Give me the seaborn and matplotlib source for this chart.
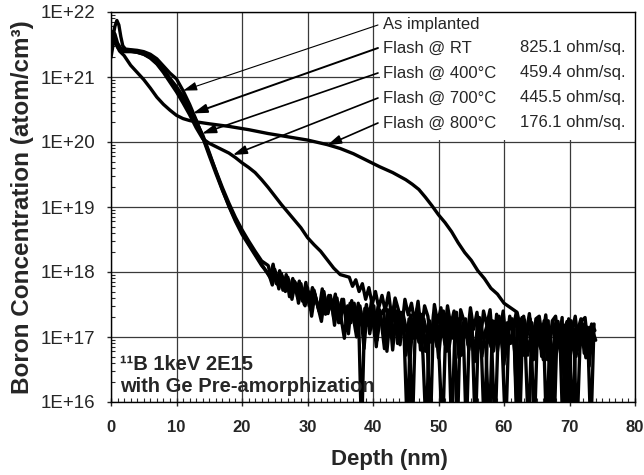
import numpy as np
import pandas as pd
import matplotlib
matplotlib.use("Agg")
import matplotlib.pyplot as plt
import seaborn as sns
from matplotlib.ticker import LogLocator, NullFormatter, MultipleLocator
from matplotlib.patches import Rectangle

# ---------------- data (log10 of concentration, atom/cm3) ----------------
series_names = ["As implanted", "Flash @ RT", "Flash @ 400°C", "Flash @ 700°C", "Flash @ 800°C"]
sheet_res = ["", "825.1 ohm/sq.", "459.4 ohm/sq.", "445.5 ohm/sq.", "176.1 ohm/sq."]

head_depth_a = [0.0, 0.3, 0.6, 0.9, 1.2, 1.5, 1.8, 2.2, 3, 4, 5, 6, 7, 8, 9, 10, 11, 12, 13, 14,
                15, 16, 17, 18, 19, 20, 21, 22, 23]
head_log_asimp = [21.45, 21.62, 21.78, 21.87, 21.80, 21.62, 21.48, 21.43, 21.42, 21.41, 21.39, 21.35,
                  21.28, 21.17, 21.06, 20.97, 20.79, 20.58, 20.34, 20.08, 19.82, 19.56, 19.30, 19.06,
                  18.84, 18.65, 18.48, 18.32, 18.17]

head_depth_b = [0.0, 0.3, 0.6, 1.0, 1.5, 2.2, 3, 4, 5, 6, 7, 8, 9, 10, 11, 12, 13, 14, 15, 16, 17,
                18, 19, 20, 21, 22, 23]
head_log_rt = [21.55, 21.70, 21.66, 21.52, 21.44, 21.41, 21.41, 21.40, 21.37, 21.32, 21.24, 21.12,
               20.98, 20.85, 20.70, 20.53, 20.33, 20.07, 19.79, 19.52, 19.26, 19.02, 18.80, 18.61,
               18.44, 18.28, 18.12]
head_log_400 = [21.35, 21.62, 21.58, 21.46, 21.40, 21.39, 21.39, 21.38, 21.35, 21.30, 21.21, 21.09,
                20.95, 20.80, 20.64, 20.48, 20.31, 20.11, 19.84, 19.55, 19.27, 19.01, 18.78, 18.58,
                18.42, 18.26, 18.10]

# noisy tails (SIMS counting noise), sampled every 0.5 nm on staggered grids
tail_depth_asimp = np.arange(24.0, 73.75, 0.5)
tail_depth_rt = np.arange(24.25, 74.0, 0.5)
tail_depth_400 = np.arange(24.125, 73.9, 0.5)
tail_log_asimp = [18.10, 17.88, 18.04, 17.80, 17.98, 17.72, 17.92, 17.65, 17.86, 17.60,
                  17.82, 17.50, 17.76, 17.42, 17.72, 17.50, 17.35, 17.70, 17.40, 17.64,
                  17.30, 17.60, 17.22, 17.58, 17.10, 17.52, 17.30, 17.00, 17.48, 17.20,
                  17.50, 17.05, 17.38, 16.85, 17.42, 17.15, 16.95, 17.40, 16.80, 17.32,
                  17.05, 17.38, 16.72, 17.28, 15.50, 17.30, 16.92, 17.35, 16.78, 17.22,
                  16.98, 17.32, 16.68, 17.20, 16.88, 17.30, 15.50, 17.08, 17.28, 16.72,
                  17.24, 16.88, 17.18, 16.62, 17.28, 16.95, 15.50, 17.20, 16.85, 17.24,
                  16.78, 17.18, 16.58, 17.22, 16.90, 17.12, 15.50, 17.20, 16.72, 17.08,
                  17.22, 16.65, 17.12, 16.85, 17.20, 15.50, 17.00, 16.70, 17.18, 16.88,
                  17.15, 16.62, 17.10, 15.50, 17.18, 16.80, 17.08, 16.68, 17.12, 16.90]
tail_log_rt = [17.92, 18.12, 17.82, 18.02, 17.72, 17.96, 17.62, 17.90, 17.68, 17.86,
               17.55, 17.84, 17.48, 17.76, 17.60, 17.40, 17.74, 17.35, 17.64, 17.42,
               17.66, 17.22, 17.58, 17.40, 17.05, 17.56, 17.20, 17.52, 15.50, 17.44,
               17.18, 17.54, 17.02, 17.46, 17.25, 16.82, 17.42, 17.08, 17.48, 16.90,
               17.38, 17.02, 15.50, 17.34, 16.98, 17.44, 16.80, 17.28, 17.05, 15.50,
               17.36, 16.85, 17.24, 17.40, 16.78, 17.26, 16.98, 17.38, 16.70, 17.22,
               15.50, 17.28, 16.98, 16.75, 17.30, 17.04, 16.82, 15.50, 17.25, 16.92,
               17.32, 16.80, 15.50, 17.18, 17.28, 16.72, 17.15, 17.30, 16.85, 15.50,
               17.22, 16.88, 17.28, 16.70, 17.14, 17.25, 15.50, 17.00, 17.24, 16.78,
               17.18, 15.50, 17.25, 16.82, 17.10, 17.28, 16.75, 17.15, 15.50, 17.20]
tail_log_400 = [17.96, 17.80, 18.00, 17.74, 17.94, 17.70, 17.88, 17.58, 17.84, 17.52,
                17.76, 17.48, 17.70, 17.32, 17.66, 17.45, 17.24, 17.62, 17.36, 17.58,
                17.18, 17.54, 17.30, 16.98, 17.48, 17.22, 17.52, 17.05, 17.40, 16.82,
                17.44, 17.12, 17.48, 16.95, 17.34, 17.42, 16.78, 17.32, 17.02, 17.40,
                16.88, 17.34, 17.10, 16.62, 17.28, 17.00, 17.36, 16.72, 15.50, 17.25,
                16.92, 17.30, 16.62, 15.50, 17.24, 16.85, 17.18, 17.30, 16.68, 17.14,
                17.28, 16.80, 17.15, 15.50, 17.24, 16.70, 17.08, 17.25, 16.88, 15.50,
                17.14, 17.28, 16.68, 17.08, 17.22, 16.78, 15.50, 17.15, 17.26, 16.72,
                17.08, 15.50, 17.18, 16.82, 17.25, 16.65, 17.10, 15.50, 17.20, 16.88,
                17.08, 17.24, 16.72, 17.12, 15.50, 16.95, 17.20, 16.80, 17.15, 17.05]

depth_700 = [0.0, 0.4, 0.8, 1.3, 2.2, 3, 4, 5, 6, 7, 8, 9, 10, 11, 12, 13, 14, 15, 16, 17, 18, 19,
             20, 21, 22, 23, 24, 25, 26, 27, 28, 29, 30, 31, 32, 33, 34, 35]
log_700 = [21.40, 21.60, 21.52, 21.43, 21.40, 21.40, 21.38, 21.35, 21.29, 21.20, 21.07, 20.92,
           20.77, 20.60, 20.42, 20.22, 20.05, 19.98, 19.93, 19.88, 19.83, 19.76, 19.68, 19.61,
           19.53, 19.42, 19.30, 19.17, 19.04, 18.92, 18.80, 18.68, 18.53, 18.42, 18.32, 18.19,
           18.06, 17.96]
tail_depth_700 = np.arange(36.375, 74.0, 0.5)
tail_log_700 = [17.92, 17.78, 17.88, 17.70, 17.82, 17.58, 17.76, 17.50, 17.70, 17.45,
                17.64, 17.40, 17.68, 17.28, 17.60, 17.42, 17.12, 17.58, 17.34, 17.52,
                17.22, 17.55, 17.08, 17.48, 17.32, 16.92, 17.50, 17.22, 17.45, 17.02,
                17.48, 17.18, 17.40, 15.50, 17.42, 17.25, 16.98, 17.45, 17.12, 17.38,
                16.92, 17.40, 17.18, 17.42, 16.78, 17.35, 17.08, 17.40, 16.88, 17.32,
                17.12, 17.38, 15.50, 17.30, 17.05, 17.36, 16.82, 17.28, 17.32, 16.98,
                17.34, 16.80, 17.25, 17.32, 16.92, 17.30, 15.50, 17.28, 17.08, 17.32,
                16.88, 17.25, 17.30, 16.82, 17.20, 17.10]

depth_800 = [0.0, 0.4, 0.8, 1.3, 2.0, 3, 4, 5, 6, 7, 8, 9, 10, 11, 12, 13, 15, 18, 21, 24, 27, 30,
             33, 35, 37, 39, 41, 43, 45, 46, 47, 48, 49, 50, 51, 52, 53, 54, 55, 56, 57, 58, 59,
             60, 61]
log_800 = [21.30, 21.55, 21.50, 21.40, 21.33, 21.18, 21.07, 20.96, 20.83, 20.69, 20.58, 20.49,
           20.41, 20.36, 20.33, 20.31, 20.28, 20.24, 20.19, 20.13, 20.08, 20.03, 19.96, 19.90,
           19.82, 19.72, 19.62, 19.53, 19.42, 19.35, 19.27, 19.15, 19.02, 18.88, 18.76, 18.62,
           18.45, 18.30, 18.18, 18.02, 17.90, 17.75, 17.66, 17.52, 17.45]
tail_depth_800 = np.arange(62.0, 74.25, 0.5)
tail_log_800 = [17.38, 17.15, 17.32, 17.00, 17.28, 16.85, 17.25, 17.02, 16.65, 17.20, 16.95, 17.24,
                16.75, 17.15, 15.50, 17.18, 16.90, 17.14, 16.70, 17.10, 16.88, 17.16, 16.55, 17.10,
                16.95]

y_ticks_labels = ["1E+16", "1E+17", "1E+18", "1E+19", "1E+20", "1E+21", "1E+22"]
x_ticks = [0, 10, 20, 30, 40, 50, 60, 70, 80]

# ---------------- build long-form table ----------------
curves = [
    (series_names[0], list(head_depth_a) + list(tail_depth_asimp), head_log_asimp + tail_log_asimp),
    (series_names[1], list(head_depth_b) + list(tail_depth_rt), head_log_rt + tail_log_rt),
    (series_names[2], list(head_depth_b) + list(tail_depth_400), head_log_400 + tail_log_400),
    (series_names[3], list(depth_700) + list(tail_depth_700), log_700 + tail_log_700),
    (series_names[4], list(depth_800) + list(tail_depth_800), log_800 + tail_log_800),
]
frames = []
for name, d, l in curves:
    frames.append(pd.DataFrame({"depth": d, "conc": 10.0 ** np.array(l), "sample": name}))
df = pd.concat(frames, ignore_index=True)

# ---------------- plot ----------------
sns.set_style("white")
plt.rcParams["font.family"] = ["Liberation Sans", "DejaVu Sans"]

fig = plt.figure(figsize=(6.44, 4.75), dpi=100)
ax = fig.add_axes([111 / 644, 1 - 402 / 475, 524 / 644, 390 / 475])

sns.lineplot(data=df, x="depth", y="conc", hue="sample", units="sample", estimator=None,
             palette={n: "black" for n in series_names}, legend=False, linewidth=2.4,
             sort=False, ax=ax, zorder=3)

ax.set_yscale("log")
ax.set_xlim(0, 80)
ax.set_ylim(1e16, 1e22)
ax.set_xlabel("")
ax.set_ylabel("")

ax.set_yticks([10.0 ** k for k in range(16, 23)])
ax.set_yticklabels(y_ticks_labels, fontsize=13.5)
ax.yaxis.set_minor_locator(LogLocator(base=10, subs=np.arange(2, 10)))
ax.yaxis.set_minor_formatter(NullFormatter())
ax.set_xticks(x_ticks)
ax.set_xticklabels([str(v) for v in x_ticks], fontsize=12, fontweight="bold")
ax.xaxis.set_minor_locator(MultipleLocator(1))

ax.tick_params(axis="y", which="major", direction="out", length=3, width=1, pad=8.5, left=True)
ax.tick_params(axis="y", which="minor", direction="in", length=3, width=0.8, left=True)
ax.tick_params(axis="x", which="major", direction="inout", length=6, width=1, pad=10, bottom=True)
ax.tick_params(axis="x", which="minor", direction="in", length=3, width=0.8, bottom=True)

ax.set_axisbelow(True)
ax.grid(True, which="major", color="#3a3a3a", linewidth=0.9)
for sp in ax.spines.values():
    sp.set_color("black")
    sp.set_linewidth(1.0)
    sp.set_zorder(5)

# white label panel at top right
ax.add_patch(Rectangle((0.513, 0.672), 0.487, 0.328, transform=ax.transAxes,
                       facecolor="white", edgecolor="none", zorder=1.5))

text_y = [0.9667, 0.9077, 0.8436, 0.7795, 0.7154]
targets = [(11.0, 10 ** 20.79), (12.5, 10 ** 20.44), (13.9, 10 ** 20.13),
           (18.6, 10 ** 19.80), (33.0, 10 ** 19.95)]
arrow_lw = [0.8, 1.4, 1.2, 1.2, 1.2]
for name, val, ty, tgt, lw in zip(series_names, sheet_res, text_y, targets, arrow_lw):
    ax.text(0.519, ty, name, transform=ax.transAxes, fontsize=12, ha="left", va="center",
            zorder=6)
    if val:
        ax.text(0.981, ty, val, transform=ax.transAxes, fontsize=12, ha="right", va="center",
                zorder=6)
    ax.annotate("", xy=tgt, xycoords="data", xytext=(0.5095, ty), textcoords="axes fraction",
                arrowprops=dict(arrowstyle="-|>,head_length=0.7,head_width=0.22", color="black",
                                lw=lw, shrinkA=0, shrinkB=0, mutation_scale=12), zorder=6)

ax.text(0.017, 0.095, "¹¹B 1keV 2E15", transform=ax.transAxes, fontsize=14.5,
        fontweight="bold", ha="left", va="center", zorder=6)
ax.text(0.017, 0.0385, "with Ge Pre-amorphization", transform=ax.transAxes, fontsize=14.5,
        fontweight="bold", ha="left", va="center", zorder=6)

fig.text(389 / 644, 1 - 460 / 475, "Depth (nm)", fontsize=16, fontweight="bold",
         ha="center", va="center")
fig.text(23 / 644, 1 - 207 / 475, "Boron Concentration (atom/cm³)", fontsize=17.5,
         fontweight="bold", ha="center", va="center", rotation=90)

fig.savefig("out.png", dpi=100)
